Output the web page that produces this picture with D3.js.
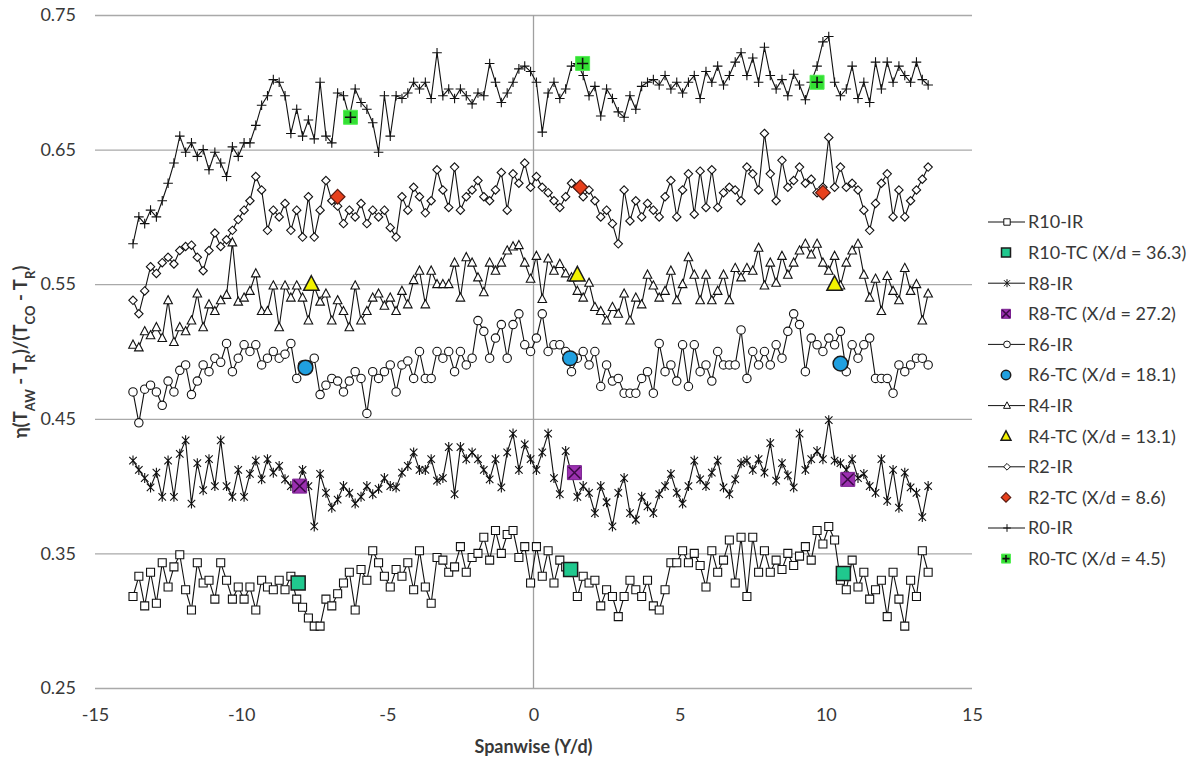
<!DOCTYPE html>
<html><head><meta charset="utf-8">
<script src="https://cdn.jsdelivr.net/npm/d3@7"></script>
<style>
body{margin:0;background:#fff}
text{font-family:Lato,"Open Sans",sans-serif;fill:#383838}
</style>
</head><body>
<svg id="chart" width="1202" height="763"></svg>
<script>
// ---- data ----
const spanStart = -13.7, spanStep = 0.2, nPts = 137;
const spanwise = d3.range(nPts).map(i => +(spanStart + i * spanStep).toFixed(2));

const r0IR = [
0.580,0.600,0.595,0.605,0.600, 0.612,0.625,0.640,0.660,0.648, 0.655,0.645,0.650,0.635,0.648,
0.640,0.630,0.652,0.645,0.655, 0.655,0.668,0.683,0.690,0.702, 0.700,0.690,0.662,0.680,0.660,
0.672,0.658,0.700,0.660,0.655, 0.692,0.690,0.674,0.695,0.685, 0.680,0.670,0.648,0.690,0.660,
0.690,0.688,0.692,0.700,0.695, 0.700,0.688,0.722,0.690,0.695, 0.688,0.695,0.690,0.684,0.692,
0.690,0.714,0.700,0.685,0.692, 0.700,0.710,0.712,0.708,0.700, 0.663,0.692,0.700,0.688,0.695,
0.712,0.714,0.705,0.690,0.697, 0.675,0.695,0.688,0.678,0.674, 0.690,0.680,0.697,0.700,0.702,
0.698,0.705,0.695,0.700,0.692, 0.700,0.705,0.688,0.708,0.700, 0.712,0.698,0.705,0.715,0.722,
0.705,0.718,0.700,0.726,0.705, 0.695,0.702,0.690,0.706,0.698, 0.687,0.700,0.712,0.730,0.734,
0.700,0.690,0.695,0.712,0.688, 0.700,0.685,0.715,0.695,0.715, 0.700,0.712,0.705,0.700,0.715,
0.702,0.698];
const r2IR = [
0.538,0.528,0.545,0.563,0.558, 0.566,0.570,0.565,0.575,0.578, 0.579,0.570,0.560,0.575,0.588,
0.578,0.583,0.590,0.598,0.605, 0.612,0.630,0.620,0.590,0.605, 0.600,0.610,0.590,0.605,0.585,
0.615,0.585,0.605,0.627,0.612, 0.608,0.595,0.605,0.600,0.610, 0.595,0.605,0.600,0.605,0.592,
0.585,0.615,0.605,0.622,0.615, 0.603,0.612,0.635,0.620,0.607, 0.637,0.605,0.615,0.620,0.627,
0.615,0.612,0.620,0.633,0.605, 0.632,0.625,0.640,0.622,0.630, 0.622,0.618,0.612,0.607,0.615,
0.625,0.622,0.615,0.620,0.612, 0.600,0.605,0.595,0.580,0.620, 0.597,0.612,0.600,0.610,0.605,
0.600,0.615,0.627,0.600,0.620, 0.632,0.602,0.634,0.607,0.635, 0.607,0.618,0.622,0.620,0.612,
0.637,0.632,0.620,0.662,0.632, 0.612,0.642,0.622,0.627,0.637, 0.625,0.628,0.618,0.622,0.659,
0.622,0.637,0.622,0.625,0.620, 0.605,0.590,0.610,0.625,0.632, 0.600,0.620,0.600,0.612,0.620,
0.628,0.637];
const r4IR = [
0.505,0.503,0.515,0.512,0.518, 0.510,0.538,0.507,0.518,0.515, 0.523,0.543,0.518,0.535,0.530,
0.538,0.542,0.581,0.537,0.540, 0.545,0.558,0.530,0.530,0.549, 0.518,0.549,0.540,0.549,0.540,
0.523,0.548,0.537,0.543,0.523, 0.538,0.530,0.518,0.549,0.523, 0.530,0.540,0.543,0.534,0.540,
0.530,0.545,0.535,0.553,0.560, 0.535,0.560,0.550,0.550,0.550, 0.566,0.540,0.570,0.566,0.555,
0.544,0.566,0.560,0.566,0.575, 0.578,0.579,0.566,0.554,0.571, 0.539,0.569,0.560,0.565,0.558,
0.555,0.545,0.540,0.551,0.533, 0.530,0.523,0.533,0.528,0.543, 0.523,0.540,0.535,0.557,0.549,
0.540,0.545,0.560,0.538,0.550, 0.570,0.557,0.538,0.557,0.538, 0.545,0.557,0.538,0.562,0.555,
0.562,0.560,0.577,0.549,0.566, 0.551,0.571,0.557,0.566,0.575, 0.580,0.572,0.580,0.566,0.560,
0.571,0.549,0.566,0.575,0.580, 0.557,0.540,0.554,0.530,0.556, 0.545,0.538,0.562,0.545,0.550,
0.523,0.543];
const r6IR = [
0.470,0.447,0.472,0.475,0.470, 0.460,0.478,0.470,0.486,0.490, 0.468,0.478,0.490,0.485,0.495,
0.492,0.506,0.485,0.495,0.505, 0.500,0.505,0.490,0.495,0.500, 0.495,0.498,0.506,0.480,0.490,
0.490,0.495,0.468,0.475,0.480, 0.478,0.470,0.478,0.485,0.480, 0.454,0.485,0.480,0.485,0.490,
0.470,0.490,0.493,0.480,0.500, 0.480,0.480,0.500,0.495,0.500, 0.485,0.500,0.490,0.495,0.523,
0.515,0.495,0.510,0.520,0.495, 0.520,0.528,0.505,0.500,0.510, 0.528,0.500,0.505,0.505,0.500,
0.485,0.495,0.500,0.490,0.500, 0.474,0.490,0.478,0.480,0.469, 0.469,0.469,0.480,0.485,0.469,
0.506,0.485,0.490,0.478,0.505, 0.474,0.505,0.485,0.490,0.478, 0.500,0.490,0.490,0.490,0.516,
0.480,0.500,0.490,0.500,0.490, 0.505,0.495,0.515,0.528,0.520, 0.485,0.510,0.505,0.500,0.510,
0.505,0.515,0.485,0.505,0.495, 0.505,0.510,0.480,0.480,0.480, 0.469,0.490,0.485,0.490,0.495,
0.495,0.490];
const r8IR = [
0.419,0.412,0.406,0.399,0.410, 0.392,0.419,0.392,0.424,0.434, 0.387,0.417,0.397,0.420,0.400,
0.434,0.400,0.392,0.412,0.392, 0.409,0.419,0.405,0.420,0.410, 0.415,0.405,0.400,0.399,0.412,
0.400,0.370,0.409,0.395,0.384, 0.390,0.400,0.395,0.387,0.392, 0.400,0.394,0.398,0.406,0.400,
0.399,0.410,0.415,0.425,0.412, 0.412,0.420,0.404,0.406,0.429, 0.394,0.429,0.420,0.425,0.420,
0.412,0.405,0.420,0.399,0.425, 0.439,0.412,0.431,0.420,0.412, 0.425,0.439,0.406,0.394,0.426,
0.409,0.392,0.400,0.395,0.380, 0.400,0.388,0.370,0.395,0.406, 0.380,0.375,0.392,0.385,0.380,
0.394,0.400,0.409,0.395,0.387, 0.400,0.419,0.405,0.400,0.410, 0.419,0.399,0.394,0.405,0.417,
0.419,0.412,0.420,0.410,0.432, 0.404,0.417,0.408,0.399,0.439, 0.412,0.420,0.426,0.420,0.449,
0.419,0.417,0.412,0.420,0.406, 0.409,0.400,0.395,0.420,0.389, 0.412,0.384,0.410,0.399,0.395,
0.377,0.400];
const r10IR = [
0.318,0.333,0.311,0.336,0.313, 0.343,0.325,0.340,0.349,0.323, 0.308,0.343,0.328,0.330,0.316,
0.343,0.330,0.316,0.325,0.316, 0.325,0.308,0.330,0.325,0.323, 0.330,0.323,0.333,0.316,0.310,
0.302,0.296,0.296,0.316,0.311, 0.320,0.328,0.336,0.308,0.338, 0.330,0.352,0.343,0.333,0.325,
0.338,0.333,0.343,0.323,0.352, 0.325,0.313,0.347,0.345,0.336, 0.340,0.355,0.336,0.347,0.350,
0.362,0.345,0.367,0.350,0.364, 0.367,0.347,0.355,0.328,0.355, 0.333,0.352,0.328,0.345,0.340,
0.338,0.318,0.333,0.328,0.330, 0.311,0.323,0.318,0.303,0.318, 0.330,0.323,0.318,0.330,0.311,
0.308,0.323,0.343,0.343,0.352, 0.343,0.350,0.341,0.325,0.352, 0.336,0.345,0.360,0.328,0.362,
0.318,0.362,0.336,0.352,0.336, 0.345,0.338,0.350,0.341,0.348, 0.355,0.345,0.367,0.357,0.370,
0.360,0.330,0.323,0.345,0.325, 0.336,0.316,0.323,0.330,0.303, 0.336,0.316,0.296,0.330,0.318,
0.352,0.336];

// thermocouple points
const r10TCx = [-8.05, 1.27, 10.6],  r10TCy = [0.328, 0.338, 0.335];
const r8TCx  = [-8.0, 1.4, 10.75],   r8TCy  = [0.400, 0.410, 0.405];
const r6TCx  = [-7.8, 1.25, 10.5],   r6TCy  = [0.488, 0.495, 0.491];
const r4TCx  = [-7.6, 1.5, 10.3],    r4TCy  = [0.550, 0.557, 0.550];
const r2TCx  = [-6.7, 1.6, 9.9],     r2TCy  = [0.615, 0.622, 0.618];
const r0TCx  = [-6.26, 1.68, 9.7],   r0TCy  = [0.674, 0.714, 0.700];

const xTicks = [-15, -10, -5, 0, 5, 10, 15];
const yTicks = [0.25, 0.35, 0.45, 0.55, 0.65, 0.75];
const legendLabels = ["R10-IR","R10-TC (X/d = 36.3)","R8-IR","R8-TC (X/d = 27.2)","R6-IR","R6-TC (X/d = 18.1)",
  "R4-IR","R4-TC (X/d = 13.1)","R2-IR","R2-TC (X/d = 8.6)","R0-IR","R0-TC (X/d = 4.5)"];

// ---- chart ----
const svg = d3.select("#chart");
const L = 95, R = 972, T = 15, B = 688;
const x = d3.scaleLinear().domain([-15, 15]).range([L, R]);
const y = d3.scaleLinear().domain([0.25, 0.75]).range([B, T]);

// y grid + labels
const ya = svg.append("g").attr("transform", `translate(${L},0)`)
  .call(d3.axisLeft(y).tickValues(yTicks).tickSize(-(R - L)).tickPadding(19).tickFormat(d3.format(".2f")));
ya.select(".domain").remove();
ya.selectAll("line").attr("stroke", "#a9a9a9").attr("stroke-width", 1.3);
ya.selectAll("text").attr("font-size", 18).attr("fill", "#383838").style("font-family", "Lato");

// x labels
const xa = svg.append("g").attr("transform", `translate(0,${B})`)
  .call(d3.axisBottom(x).tickValues(xTicks).tickSize(0).tickPadding(20).tickFormat(d => d));
xa.select(".domain").remove();
xa.selectAll("text").attr("font-size", 18).attr("fill", "#383838").style("font-family", "Lato");

// zero line
svg.append("line").attr("x1", x(0)).attr("x2", x(0)).attr("y1", y(0.75)).attr("y2", y(0.25))
  .attr("stroke", "#a0a0a0").attr("stroke-width", 1.3);

// marker shapes
function starPath(s){ const d = s*0.75; return `M0,${-s}L0,${s}M${-d},${-d}L${d},${d}M${-d},${d}L${d},${-d}`; }
function plusPath(s){ return `M${-s},0L${s},0M0,${-s}L0,${s}`; }
const shapes = {
  square: s => `M${-s},${-s}h${2*s}v${2*s}h${-2*s}Z`,
  circle: s => d3.symbol(d3.symbolCircle, Math.PI*s*s)(),
  triangle: s => `M0,${-s*1.1}L${s},${s*0.8}L${-s},${s*0.8}Z`,
  diamond: s => `M0,${-s}L${s},0L0,${s}L${-s},0Z`,
  star: starPath,
  plus: plusPath
};

const irSeries = [
  {vals: r10IR, shape: "square", s: 4},
  {vals: r8IR, shape: "star", s: 5},
  {vals: r6IR, shape: "circle", s: 4.2},
  {vals: r4IR, shape: "triangle", s: 4.3},
  {vals: r2IR, shape: "diamond", s: 4.2},
  {vals: r0IR, shape: "plus", s: 4.8}
];
const line = d3.line().x(d => x(d[0])).y(d => y(d[1]));
irSeries.forEach(sr => {
  const pts = spanwise.map((xv, i) => [xv, sr.vals[i]]);
  svg.append("path").attr("d", line(pts)).attr("fill", "none").attr("stroke", "#111").attr("stroke-width", 1.1);
  svg.append("g").selectAll("path").data(pts).join("path")
    .attr("transform", d => `translate(${x(d[0])},${y(d[1])})`)
    .attr("d", shapes[sr.shape](sr.s))
    .attr("fill", (sr.shape === "star" || sr.shape === "plus") ? "none" : "#fff")
    .attr("stroke", "#111").attr("stroke-width", 1.1);
});

// TC markers
function drawTC(g, kind, s){
  if (kind === "r10") {
    g.append("path").attr("d", shapes.square(s)).attr("fill", "#20c88e").attr("stroke", "#1b1b1b").attr("stroke-width", 1.5);
  } else if (kind === "r8") {
    g.append("path").attr("d", shapes.square(s)).attr("fill", "#9b30b0").attr("stroke", "#7a2090").attr("stroke-width", 1);
    const d = s*0.85;
    g.append("path").attr("d", `M${-d},${-d}L${d},${d}M${-d},${d}L${d},${-d}`).attr("stroke", "#3a0a45").attr("stroke-width", 1.5);
  } else if (kind === "r6") {
    g.append("circle").attr("r", s*1.05).attr("fill", "#20a0e0").attr("stroke", "#1b1b1b").attr("stroke-width", 1.5);
  } else if (kind === "r4") {
    g.append("path").attr("d", shapes.triangle(s*1.1)).attr("fill", "#f2f200").attr("stroke", "#1b1b1b").attr("stroke-width", 1.5);
  } else if (kind === "r2") {
    g.append("path").attr("d", shapes.diamond(s*1.05)).attr("fill", "#e8401c").attr("stroke", "#5a1a10").attr("stroke-width", 1.2);
  } else if (kind === "r0") {
    g.append("path").attr("d", shapes.square(s)).attr("fill", "#33e033").attr("stroke", "#55ee55").attr("stroke-width", 1);
    g.append("path").attr("d", plusPath(s*0.8)).attr("stroke", "#111").attr("stroke-width", 1.6);
  }
}
const tcSeries = [
  {kind: "r10", xs: r10TCx, ys: r10TCy},
  {kind: "r8", xs: r8TCx, ys: r8TCy},
  {kind: "r6", xs: r6TCx, ys: r6TCy},
  {kind: "r4", xs: r4TCx, ys: r4TCy},
  {kind: "r2", xs: r2TCx, ys: r2TCy},
  {kind: "r0", xs: r0TCx, ys: r0TCy}
];
tcSeries.forEach(sr => {
  sr.xs.forEach((xv, i) => {
    const g = svg.append("g").attr("transform", `translate(${x(xv)},${y(sr.ys[i])})`);
    drawTC(g, sr.kind, 7);
  });
});

// legend
const legY0 = 222, legDy = 30.6;
legendLabels.forEach((lab, i) => {
  const yy = legY0 + i * legDy;
  const g = svg.append("g").attr("transform", `translate(0,${yy})`);
  if (i % 2 === 0) {
    const sr = irSeries[i / 2];
    g.append("line").attr("x1", 988).attr("x2", 1025).attr("y1", 0).attr("y2", 0).attr("stroke", "#111").attr("stroke-width", 1);
    g.append("path").attr("transform", "translate(1007,0)").attr("d", shapes[sr.shape](sr.s * 0.8))
      .attr("fill", (sr.shape === "star" || sr.shape === "plus") ? "none" : "#fff").attr("stroke", "#111").attr("stroke-width", 1);
  } else {
    const gg = g.append("g").attr("transform", "translate(1006,0)");
    drawTC(gg, tcSeries[(i - 1) / 2].kind, 4.5);
  }
  g.append("text").attr("x", 1028).attr("y", 0).attr("dy", "0.35em").attr("font-size", 18).text(lab);
});

// axis titles
svg.append("text").attr("x", x(0)).attr("y", 753).attr("text-anchor", "middle")
  .attr("font-size", 18).attr("font-weight", "bold").text("Spanwise (Y/d)");

const yt = svg.append("text").attr("transform", "translate(27,352) rotate(-90)").attr("text-anchor", "middle")
  .attr("font-size", 18.5).attr("font-weight", "bold");
const parts = [["η(T",0],["AW",1],[" - T",0],["R",1],[")/(T",0],["CO",1],[" - T",0],["R",1],[")",0]];
parts.forEach(p => {
  const ts = yt.append("tspan").text(p[0]);
  if (p[1]) ts.attr("baseline-shift", "sub").attr("font-size", 13);
});
</script>
</body></html>
